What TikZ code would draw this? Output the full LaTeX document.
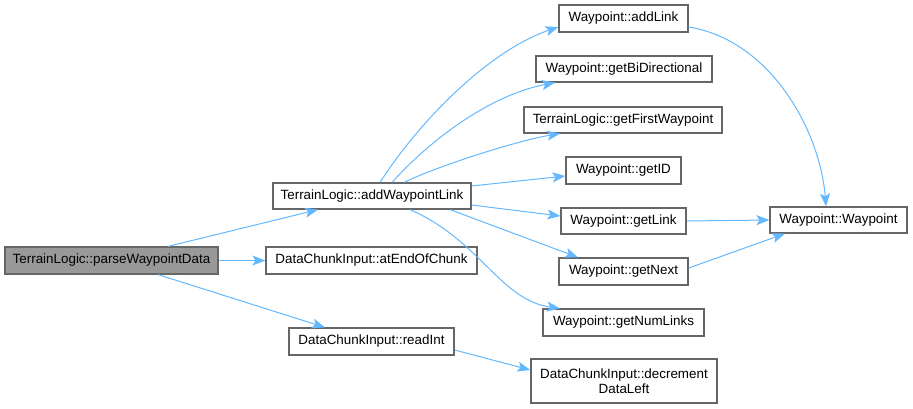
\documentclass[tikz,border=0pt]{standalone}
\usepackage{fontspec}
\setmainfont{Liberation Sans}
\usetikzlibrary{arrows.meta}
\definecolor{edgeblue}{HTML}{63B8FF}
\definecolor{boxgray}{HTML}{666666}
\definecolor{fillgray}{HTML}{999999}
\begin{document}
\begin{tikzpicture}[x=1pt,y=-1pt,
  fn/.style={draw=boxgray,line width=1.2pt,fill=white,inner sep=0pt,align=center,font=\fontsize{13.4}{15}\selectfont},
  cur/.style={fn,fill=fillgray},
  call/.style={draw=edgeblue,line width=1pt,-{Stealth[length=13pt,width=10pt,inset=3pt]}}]
\useasboundingbox (0,0) rectangle (913,408);
\newcommand{\fnbox}[6]{\node[#1,minimum width=#4-#3,minimum height=#6-#5] (#2) at ({(#3+#4)/2},{(#5+#6)/2})}
\fnbox{cur}{parse}{5}{218}{247}{274}{TerrainLogic::parseWaypointData};
\fnbox{fn}{addwl}{273}{471}{183}{209}{TerrainLogic::addWaypointLink};
\fnbox{fn}{atend}{266}{477}{247}{274}{DataChunkInput::atEndOfChunk};
\fnbox{fn}{readint}{289}{454}{328}{355}{DataChunkInput::readInt};
\fnbox{fn}{addlink}{559}{688}{5}{32}{Waypoint::addLink};
\fnbox{fn}{getbidi}{536}{712}{56}{82}{Waypoint::getBiDirectional};
\fnbox{fn}{getfirst}{524}{722}{107}{133}{TerrainLogic::getFirstWaypoint};
\fnbox{fn}{getid}{566}{681}{157}{184}{Waypoint::getID};
\fnbox{fn}{getlink}{561}{686}{208}{234}{Waypoint::getLink};
\fnbox{fn}{getnext}{559}{688}{258}{285}{Waypoint::getNext};
\fnbox{fn}{getnum}{543}{704}{309}{336}{Waypoint::getNumLinks};
\fnbox{fn}{decr}{531}{717}{359}{403}{DataChunkInput::decrement\\DataLeft};
\fnbox{fn}{ctor}{770}{907}{207}{233}{Waypoint::Waypoint};
% edges
\draw[call] (parse.north -| 168,0) -- (addwl.south -| 318,0);
\draw[call] (parse.east) -- (atend.west);
\draw[call] (parse.south -| 158,0) -- (readint.north -| 325,0);
\draw[call] (addwl.north -| 380,0) .. controls (420,120) and (490,50) .. (addlink.west |- 0,27);
\draw[call] (addwl.north -| 392,0) .. controls (430,140) and (490,95) .. (getbidi.south -| 555,0);
\draw[call] (addwl.north -| 404,0) .. controls (440,165) and (520,140) .. (getfirst.south -| 560,0);
\draw[call] (addwl.east |- 0,186) -- (getid.west |- 0,176);
\draw[call] (addwl.east |- 0,205) -- (getlink.west |- 0,216);
\draw[call] (addwl.south -| 450,0) -- (getnext.north -| 578,0);
\draw[call] (addwl.south -| 410,0) .. controls (480,240) and (500,300) .. (getnum.north -| 560,0);
\draw[call] (addlink.east |- 0,27) .. controls (770,40) and (820,130) .. (ctor.north -| 826,0);
\draw[call] (getlink.east) -- (ctor.west);
\draw[call] (getnext.east |- 0,268) -- (ctor.south -| 785,0);
\draw[call] (readint.east |- 0,350) -- (decr.west |- 0,370);
\end{tikzpicture}
\end{document}
